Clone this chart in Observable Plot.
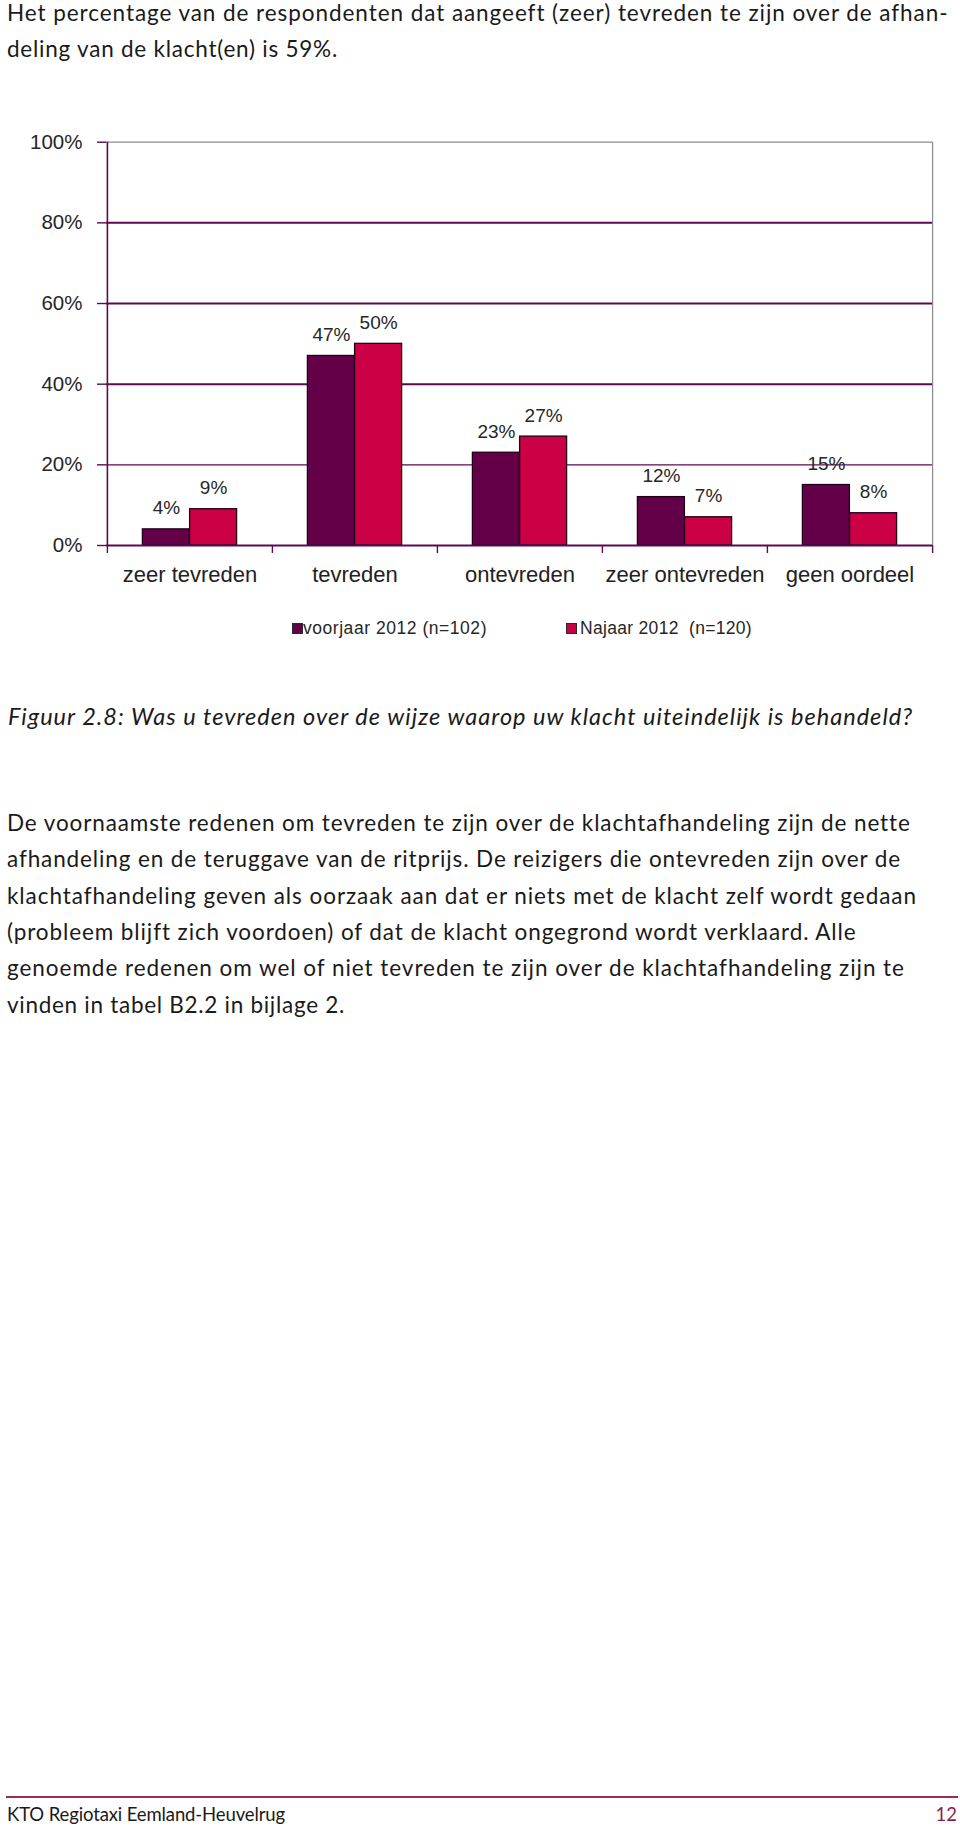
<!DOCTYPE html>
<html lang="nl">
<head>
<meta charset="utf-8">
<script src="https://cdn.jsdelivr.net/npm/d3@7"></script>
<script src="https://cdn.jsdelivr.net/npm/@observablehq/plot@0.6"></script>
<style>
  html, body { margin: 0; padding: 0; background: #fff; }
  #page { position: relative; width: 960px; height: 1837px; overflow: hidden; background: #fff; color: #1a1a1a; }
  #chart { position: absolute; left: 0; top: 110px; }
  .line { position: absolute; white-space: pre; line-height: 1; }
  .sq { position: absolute; width: 9px; height: 9px; border: 1px solid #2a2a2a; }
</style>
</head>
<body>
<div id="page">
  <div id="chart"></div>
</div>
<script>
// ---------- data ----------
const categories = ["zeer tevreden", "tevreden", "ontevreden", "zeer ontevreden", "geen oordeel"];
const seriesNames = ["voorjaar 2012 (n=102)", "Najaar 2012  (n=120)"];
const voorjaar = [4, 47, 23, 12, 15];
const najaar = [9, 50, 27, 7, 8];
const yTicks = [0, 20, 40, 60, 80, 100];
const seriesColors = ["#640048", "#cc0044"];

const introLines = [
  "Het percentage van de respondenten dat aangeeft (zeer) tevreden te zijn over de afhan-",
  "deling van de klacht(en) is 59%."
];
const captionText = "Figuur 2.8: Was u tevreden over de wijze waarop uw klacht uiteindelijk is behandeld?";
const paragraphLines = [
  "De voornaamste redenen om tevreden te zijn over de klachtafhandeling zijn de nette",
  "afhandeling en de teruggave van de ritprijs. De reizigers die ontevreden zijn over de",
  "klachtafhandeling geven als oorzaak aan dat er niets met de klacht zelf wordt gedaan",
  "(probleem blijft zich voordoen) of dat de klacht ongegrond wordt verklaard. Alle",
  "genoemde redenen om wel of niet tevreden te zijn over de klachtafhandeling zijn te",
  "vinden in tabel B2.2 in bijlage 2."
];
const footerText = "KTO Regiotaxi Eemland-Heuvelrug";
const pageNumber = "12";

// ---------- tables ----------
const rowsV = categories.map((c, i) => ({cat: c, value: voorjaar[i]}));
const rowsN = categories.map((c, i) => ({cat: c, value: najaar[i]}));

// ---------- chart ----------
const W = 960, H = 500, mL = 106, mR = 28, mT = 31.7, mB = 65;
const bw = (W - mL - mR) / categories.length;
const barW = 47.2;
const gap = (bw - 2 * barW) / 2;
const purple = "#5b0a52";
const grey = "#8a8a8a";
const txt = "#262626";

const chart = Plot.plot({
  width: W, height: H,
  marginLeft: mL, marginRight: mR, marginTop: mT, marginBottom: mB,
  style: {fontFamily: '"Liberation Sans", Arial, sans-serif', background: "transparent", overflow: "visible"},
  x: {type: "band", domain: categories, padding: 0, label: null},
  y: {domain: [0, 100], label: null},
  marks: [
    Plot.ruleY(yTicks.filter(d => d === 20), {y: d => d, stroke: purple, strokeWidth: 1.2}),
    Plot.ruleY(yTicks.filter(d => d > 20 && d < 100), {y: d => d, stroke: purple, strokeWidth: 2}),
    Plot.ruleY(yTicks.filter(d => d === 100), {y: d => d, stroke: grey, strokeWidth: 1.2}),
    Plot.gridX({ticks: [categories[0]], dx: -bw / 2, stroke: purple, strokeOpacity: 1, strokeWidth: 1.6}),
    Plot.gridX({ticks: [categories[categories.length - 1]], dx: bw / 2, stroke: grey, strokeOpacity: 1, strokeWidth: 1.2}),
    Plot.barY(rowsV, {x: "cat", y: "value", fill: seriesColors[0], stroke: "#1e0018", strokeWidth: 1.3,
      insetLeft: gap, insetRight: bw - gap - barW}),
    Plot.barY(rowsN, {x: "cat", y: "value", fill: seriesColors[1], stroke: "#1e0018", strokeWidth: 1.3,
      insetLeft: gap + barW, insetRight: gap}),
    Plot.ruleY(yTicks.filter(d => d === 0), {y: d => d, stroke: purple, strokeWidth: 2}),
    Plot.axisX({ticks: categories, tickSize: 8, tickFormat: () => "", dx: -bw / 2, stroke: purple, strokeWidth: 1.4, label: null}),
    Plot.axisX({ticks: [categories[categories.length - 1]], tickSize: 8, tickFormat: () => "", dx: bw / 2, stroke: purple, strokeWidth: 1.4, label: null}),
    Plot.axisY({ticks: yTicks, tickSize: 9, tickFormat: () => "", stroke: purple, strokeWidth: 1.4, label: null}),
    Plot.text(yTicks, {y: d => d, text: d => d + "%", frameAnchor: "left", dx: -24, textAnchor: "end", fontSize: 20.5, fill: txt}),
    Plot.text(rowsV, {x: "cat", y: "value", text: d => d.value + "%", dx: -barW / 2, dy: -21, fontSize: 19, fill: txt}),
    Plot.text(rowsN, {x: "cat", y: "value", text: d => d.value + "%", dx: barW / 2, dy: -21, fontSize: 19, fill: txt}),
    Plot.text(categories, {x: d => d, frameAnchor: "bottom", dy: 36, fontSize: 22, fill: "#222"})
  ]
});
document.getElementById("chart").appendChild(chart);

// ---------- page text ----------
const page = document.getElementById("page");
function placeLine(text, o) {
  const div = document.createElement("div");
  div.className = "line";
  div.style.left = o.x + "px";
  div.style.top = "0px";
  div.style.fontFamily = o.font;
  div.style.fontSize = o.size + "px";
  div.style.fontStyle = o.italic ? "italic" : "normal";
  div.style.color = o.color || "#1a1a1a";
  const span = document.createElement("span");
  span.textContent = text;
  const marker = document.createElement("span");
  marker.style.display = "inline-block";
  marker.style.width = "0px";
  marker.style.height = "0px";
  div.appendChild(span);
  div.appendChild(marker);
  page.appendChild(div);
  const baseOff = marker.offsetTop;
  div.style.top = (o.baseline - baseOff) + "px";
  if (o.target) {
    const w = span.getBoundingClientRect().width;
    const n = [...text].length;
    span.style.letterSpacing = ((o.target - o.x - w) / n) + "px";
  }
  if (o.right !== undefined) {
    const w = div.getBoundingClientRect().width;
    div.style.left = (o.right - w) + "px";
  }
  return div;
}
const bodyFont = 'Lato, "Open Sans", sans-serif';
placeLine(introLines[0], {x: 7, baseline: 21, size: 22.5, font: bodyFont, target: 948});
placeLine(introLines[1], {x: 7, baseline: 57, size: 22.5, font: bodyFont, target: 338});

// legend
const legendX = [[292, 303, 487], [566, 580, 752]];
seriesNames.forEach((name, i) => {
  const sq = document.createElement("div");
  sq.className = "sq";
  sq.style.left = legendX[i][0] + "px";
  sq.style.top = "623px";
  sq.style.background = seriesColors[i];
  page.appendChild(sq);
  placeLine(name, {x: legendX[i][1], baseline: 634, size: 17.5, font: '"Liberation Sans", Arial, sans-serif', color: "#262626", target: legendX[i][2]});
});

placeLine(captionText, {x: 8, baseline: 725, size: 23.5, font: bodyFont, italic: true, target: 913});

const paraTargets = [910, 901, 917, 856, 905, 345];
paragraphLines.forEach((l, i) => {
  placeLine(l, {x: 7, baseline: 831 + i * 36.3, size: 22.5, font: bodyFont, target: paraTargets[i]});
});

// footer
const rule = document.createElement("div");
rule.style.cssText = "position:absolute;left:6px;top:1796px;width:952px;height:1.5px;background:#9c2a5a;";
page.appendChild(rule);
placeLine(footerText, {x: 7, baseline: 1821, size: 18.5, font: bodyFont, color: "#1a1a1a", target: 285});
placeLine(pageNumber, {x: 0, right: 957, baseline: 1821, size: 18.5, font: bodyFont, color: "#8c1d4f"});
</script>
</body>
</html>
